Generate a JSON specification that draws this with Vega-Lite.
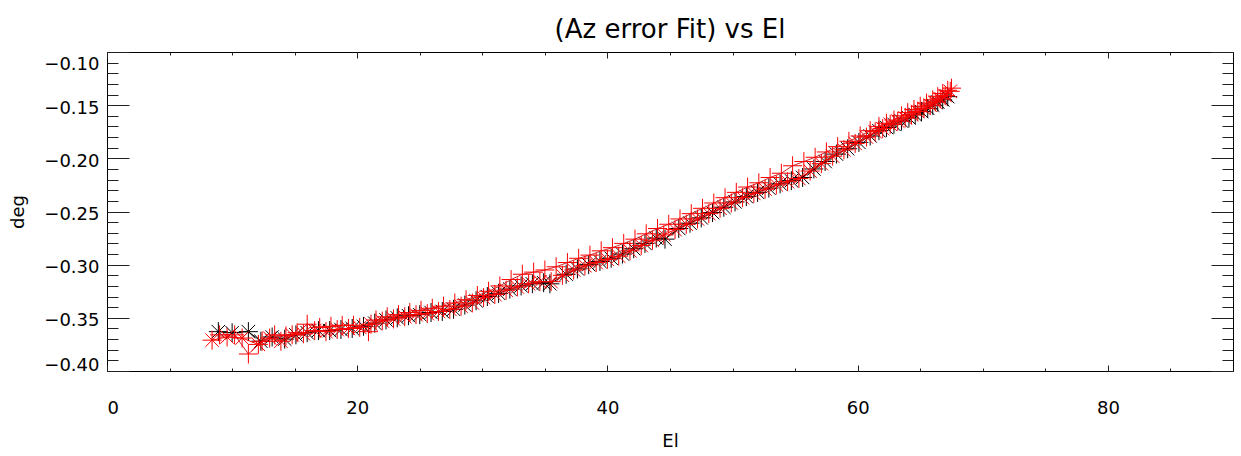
{
  "$schema": "https://vega.github.io/schema/vega-lite/v6.json",
  "width": 1126,
  "height": 319,
  "autosize": "none",
  "padding": {"left": 107, "top": 52, "right": 8, "bottom": 85},
  "background": "white",
  "title": {"text": "(Az error Fit) vs El", "font": "DejaVu Sans", "fontSize": 26, "fontWeight": "normal", "color": "#000", "anchor": "middle", "frame": "group", "baseline": "alphabetic", "offset": -12},
  "config": {
    "view": {"stroke": "#000", "strokeWidth": 1},
    "axis": {"grid": false, "domain": false, "labelFont": "DejaVu Sans", "labelFontSize": 18, "labelColor": "#000", "titleFont": "DejaVu Sans", "titleFontSize": 18, "titleFontWeight": "normal", "titleColor": "#000", "tickColor": "#222", "tickWidth": 1}
  },
  "datasets": {
    "blk": [
      {"el": 8.9, "v": -0.363}, {"el": 10.0, "v": -0.364}, {"el": 11.3, "v": -0.363}, {"el": 12.3, "v": -0.372}, {"el": 13.2, "v": -0.368}, {"el": 14.2, "v": -0.370}, {"el": 15.1, "v": -0.366}, {"el": 16.0, "v": -0.364}, {"el": 16.9, "v": -0.362}, {"el": 17.8, "v": -0.362}, {"el": 18.7, "v": -0.361}, {"el": 19.6, "v": -0.360}, {"el": 20.5, "v": -0.358}, {"el": 21.4, "v": -0.355}, {"el": 22.3, "v": -0.352}, {"el": 23.2, "v": -0.350}, {"el": 24.1, "v": -0.348}, {"el": 25.0, "v": -0.347}, {"el": 25.9, "v": -0.345}, {"el": 26.8, "v": -0.344}, {"el": 27.7, "v": -0.342}, {"el": 28.6, "v": -0.338}, {"el": 29.5, "v": -0.334}, {"el": 30.4, "v": -0.330}, {"el": 31.3, "v": -0.327}, {"el": 32.2, "v": -0.323}, {"el": 33.1, "v": -0.320}, {"el": 34.0, "v": -0.318}, {"el": 34.9, "v": -0.317}, {"el": 35.4, "v": -0.318}, {"el": 36.7, "v": -0.309}, {"el": 37.6, "v": -0.304}, {"el": 38.5, "v": -0.300}, {"el": 39.4, "v": -0.297}, {"el": 40.3, "v": -0.294}, {"el": 41.2, "v": -0.290}, {"el": 42.1, "v": -0.285}, {"el": 43.0, "v": -0.280}, {"el": 43.9, "v": -0.275}, {"el": 44.6, "v": -0.276}, {"el": 45.7, "v": -0.266}, {"el": 46.6, "v": -0.261}, {"el": 47.5, "v": -0.256}, {"el": 48.4, "v": -0.251}, {"el": 49.3, "v": -0.246}, {"el": 50.2, "v": -0.241}, {"el": 51.1, "v": -0.236}, {"el": 52.0, "v": -0.232}, {"el": 52.9, "v": -0.228}, {"el": 53.8, "v": -0.224}, {"el": 54.7, "v": -0.221}, {"el": 55.6, "v": -0.218}, {"el": 56.5, "v": -0.210}, {"el": 57.4, "v": -0.203}, {"el": 58.3, "v": -0.196}, {"el": 59.2, "v": -0.191}, {"el": 60.1, "v": -0.185}, {"el": 61.0, "v": -0.179}, {"el": 61.7, "v": -0.174}, {"el": 62.3, "v": -0.171}, {"el": 62.9, "v": -0.168}, {"el": 63.5, "v": -0.165}, {"el": 64.1, "v": -0.162}, {"el": 64.6, "v": -0.159}, {"el": 65.1, "v": -0.156}, {"el": 65.6, "v": -0.153}, {"el": 66.0, "v": -0.150}, {"el": 66.4, "v": -0.147}, {"el": 66.8, "v": -0.145}, {"el": 67.2, "v": -0.142}
    ],
    "plus": [
      {"el": 9.0, "v": -0.366}, {"el": 10.2, "v": -0.366}, {"el": 11.3, "v": -0.384}, {"el": 12.4, "v": -0.372}, {"el": 13.4, "v": -0.366}, {"el": 14.3, "v": -0.367}, {"el": 15.2, "v": -0.364}, {"el": 16.0, "v": -0.356}, {"el": 17.0, "v": -0.359}, {"el": 17.9, "v": -0.358}, {"el": 18.8, "v": -0.357}, {"el": 19.7, "v": -0.357}, {"el": 20.9, "v": -0.363}, {"el": 21.5, "v": -0.352}, {"el": 22.4, "v": -0.349}, {"el": 23.3, "v": -0.347}, {"el": 24.2, "v": -0.345}, {"el": 25.1, "v": -0.343}, {"el": 26.0, "v": -0.341}, {"el": 26.9, "v": -0.339}, {"el": 27.8, "v": -0.336}, {"el": 28.7, "v": -0.333}, {"el": 29.6, "v": -0.329}, {"el": 30.5, "v": -0.325}, {"el": 31.4, "v": -0.320}, {"el": 32.3, "v": -0.314}, {"el": 33.2, "v": -0.309}, {"el": 34.1, "v": -0.307}, {"el": 35.0, "v": -0.305}, {"el": 35.9, "v": -0.302}, {"el": 36.8, "v": -0.298}, {"el": 37.7, "v": -0.294}, {"el": 38.6, "v": -0.291}, {"el": 39.5, "v": -0.287}, {"el": 40.4, "v": -0.284}, {"el": 41.3, "v": -0.280}, {"el": 42.2, "v": -0.276}, {"el": 43.1, "v": -0.271}, {"el": 44.0, "v": -0.266}, {"el": 44.9, "v": -0.262}, {"el": 45.8, "v": -0.257}, {"el": 46.7, "v": -0.252}, {"el": 47.6, "v": -0.247}, {"el": 48.5, "v": -0.242}, {"el": 49.4, "v": -0.237}, {"el": 50.3, "v": -0.232}, {"el": 51.2, "v": -0.227}, {"el": 52.1, "v": -0.223}, {"el": 53.0, "v": -0.218}, {"el": 53.9, "v": -0.214}, {"el": 54.8, "v": -0.207}, {"el": 55.7, "v": -0.203}, {"el": 56.6, "v": -0.199}, {"el": 57.5, "v": -0.194}, {"el": 58.4, "v": -0.189}, {"el": 59.3, "v": -0.184}, {"el": 60.2, "v": -0.179}, {"el": 61.0, "v": -0.174}, {"el": 61.7, "v": -0.170}, {"el": 62.3, "v": -0.167}, {"el": 62.9, "v": -0.164}, {"el": 63.5, "v": -0.160}, {"el": 64.0, "v": -0.157}, {"el": 64.5, "v": -0.154}, {"el": 65.0, "v": -0.151}, {"el": 65.5, "v": -0.148}, {"el": 66.0, "v": -0.145}, {"el": 66.4, "v": -0.142}, {"el": 66.8, "v": -0.139}, {"el": 67.2, "v": -0.136}, {"el": 67.5, "v": -0.134}
    ],
    "red": [
      {"el": 8.4, "v": -0.371}, {"el": 9.6, "v": -0.368}, {"el": 10.8, "v": -0.369}, {"el": 12.1, "v": -0.375}, {"el": 13.0, "v": -0.369}, {"el": 13.9, "v": -0.372}, {"el": 14.8, "v": -0.366}, {"el": 15.7, "v": -0.365}, {"el": 16.6, "v": -0.362}, {"el": 17.5, "v": -0.363}, {"el": 18.4, "v": -0.361}, {"el": 19.3, "v": -0.360}, {"el": 20.2, "v": -0.359}, {"el": 21.1, "v": -0.356}, {"el": 22.0, "v": -0.353}, {"el": 22.9, "v": -0.351}, {"el": 23.8, "v": -0.349}, {"el": 24.7, "v": -0.347}, {"el": 25.6, "v": -0.346}, {"el": 26.5, "v": -0.344}, {"el": 27.4, "v": -0.342}, {"el": 28.3, "v": -0.339}, {"el": 29.2, "v": -0.336}, {"el": 30.1, "v": -0.331}, {"el": 31.0, "v": -0.328}, {"el": 31.9, "v": -0.324}, {"el": 32.8, "v": -0.321}, {"el": 33.7, "v": -0.318}, {"el": 34.6, "v": -0.316}, {"el": 35.5, "v": -0.316}, {"el": 36.4, "v": -0.310}, {"el": 37.3, "v": -0.305}, {"el": 38.2, "v": -0.301}, {"el": 39.1, "v": -0.298}, {"el": 40.0, "v": -0.295}, {"el": 40.9, "v": -0.292}, {"el": 41.8, "v": -0.287}, {"el": 42.7, "v": -0.282}, {"el": 43.6, "v": -0.277}, {"el": 44.5, "v": -0.272}, {"el": 45.4, "v": -0.267}, {"el": 46.3, "v": -0.262}, {"el": 47.2, "v": -0.257}, {"el": 48.1, "v": -0.252}, {"el": 49.0, "v": -0.247}, {"el": 49.9, "v": -0.242}, {"el": 50.8, "v": -0.237}, {"el": 51.7, "v": -0.233}, {"el": 52.6, "v": -0.229}, {"el": 53.5, "v": -0.225}, {"el": 54.4, "v": -0.222}, {"el": 55.3, "v": -0.219}, {"el": 56.2, "v": -0.212}, {"el": 57.1, "v": -0.205}, {"el": 58.0, "v": -0.198}, {"el": 58.9, "v": -0.192}, {"el": 59.8, "v": -0.186}, {"el": 60.7, "v": -0.180}, {"el": 61.4, "v": -0.175}, {"el": 62.0, "v": -0.172}, {"el": 62.6, "v": -0.168}, {"el": 63.2, "v": -0.165}, {"el": 63.8, "v": -0.162}, {"el": 64.3, "v": -0.159}, {"el": 64.8, "v": -0.156}, {"el": 65.3, "v": -0.153}, {"el": 65.8, "v": -0.150}, {"el": 66.2, "v": -0.147}, {"el": 66.6, "v": -0.144}, {"el": 67.0, "v": -0.141}, {"el": 67.4, "v": -0.137}
    ]
  },
  "resolve": {"axis": {"x": "independent", "y": "independent"}},
  "layer": [
    {
      "data": {"name": "blk"},
      "mark": {"type": "line", "color": "#000", "strokeWidth": 1},
      "encoding": {
        "x": {"field": "el", "type": "quantitative", "scale": {"domain": [0, 90], "nice": false, "zero": false},
              "axis": {"orient": "bottom", "values": [0, 20, 40, 60, 80], "ticks": false, "tickSize": 0, "labelPadding": 28, "title": "El", "titleY": 75, "titleBaseline": "alphabetic"}},
        "y": {"field": "v", "type": "quantitative", "scale": {"domain": [-0.40, -0.10], "nice": false, "zero": false},
              "axis": {"orient": "left", "values": [-0.40, -0.35, -0.30, -0.25, -0.20, -0.15, -0.10], "format": ".2f", "ticks": false, "tickSize": 0, "labelPadding": 8, "labelFlush": true, "labelOffset": 3, "title": "deg", "titleX": -84, "titleBaseline": "alphabetic"}}
      }
    },
    {
      "data": {"name": "blk"},
      "mark": {"type": "point", "shape": "M-1,0L1,0M0,-1L0,1M-0.71,-0.71L0.71,0.71M-0.71,0.71L0.71,-0.71", "filled": false, "color": "#000", "strokeWidth": 1, "size": 360, "opacity": 1},
      "encoding": {
        "x": {"field": "el", "type": "quantitative", "axis": {"orient": "bottom", "values": [0, 20, 40, 60, 80], "tickSize": -6, "labels": false, "title": null}},
        "y": {"field": "v", "type": "quantitative", "axis": {"orient": "left", "values": [-0.40, -0.35, -0.30, -0.25, -0.20, -0.15, -0.10], "tickSize": -22, "labels": false, "title": null}}
      }
    },
    {
      "data": {"name": "plus"},
      "mark": {"type": "line", "color": "#c82828", "strokeWidth": 1},
      "encoding": {
        "x": {"field": "el", "type": "quantitative", "axis": {"orient": "bottom", "values": [5, 10, 15, 25, 30, 35, 45, 50, 55, 65, 70, 75, 85], "tickSize": -3, "labels": false, "title": null}},
        "y": {"field": "v", "type": "quantitative", "axis": {"orient": "left", "values": [-0.39, -0.38, -0.37, -0.36, -0.34, -0.33, -0.32, -0.31, -0.29, -0.28, -0.27, -0.26, -0.24, -0.23, -0.22, -0.21, -0.19, -0.18, -0.17, -0.16, -0.14, -0.13, -0.12, -0.11], "tickSize": -11, "labels": false, "title": null}}
      }
    },
    {
      "data": {"name": "plus"},
      "mark": {"type": "point", "shape": "M-1,0L1,0M0,-1L0,1", "filled": false, "color": "#ff0000", "strokeWidth": 1, "size": 360, "opacity": 1},
      "encoding": {
        "x": {"field": "el", "type": "quantitative", "axis": {"orient": "top", "values": [0, 20, 40, 60, 80], "tickSize": -6, "labels": false, "title": null}},
        "y": {"field": "v", "type": "quantitative", "axis": {"orient": "right", "values": [-0.40, -0.35, -0.30, -0.25, -0.20, -0.15, -0.10], "tickSize": -22, "labels": false, "title": null}}
      }
    },
    {
      "data": {"name": "red"},
      "mark": {"type": "line", "color": "#ff0000", "strokeWidth": 1},
      "encoding": {
        "x": {"field": "el", "type": "quantitative", "axis": {"orient": "top", "values": [5, 10, 15, 25, 30, 35, 45, 50, 55, 65, 70, 75, 85], "tickSize": -3, "labels": false, "title": null}},
        "y": {"field": "v", "type": "quantitative", "axis": {"orient": "right", "values": [-0.39, -0.38, -0.37, -0.36, -0.34, -0.33, -0.32, -0.31, -0.29, -0.28, -0.27, -0.26, -0.24, -0.23, -0.22, -0.21, -0.19, -0.18, -0.17, -0.16, -0.14, -0.13, -0.12, -0.11], "tickSize": -11, "labels": false, "title": null}}
      }
    },
    {
      "data": {"name": "red"},
      "mark": {"type": "point", "shape": "M-1,0L1,0M0,-1L0,1M-0.71,-0.71L0.71,0.71M-0.71,0.71L0.71,-0.71", "filled": false, "color": "#ff0000", "strokeWidth": 1, "size": 360, "opacity": 1},
      "encoding": {
        "x": {"field": "el", "type": "quantitative", "axis": null},
        "y": {"field": "v", "type": "quantitative", "axis": null}
      }
    }
  ]
}
